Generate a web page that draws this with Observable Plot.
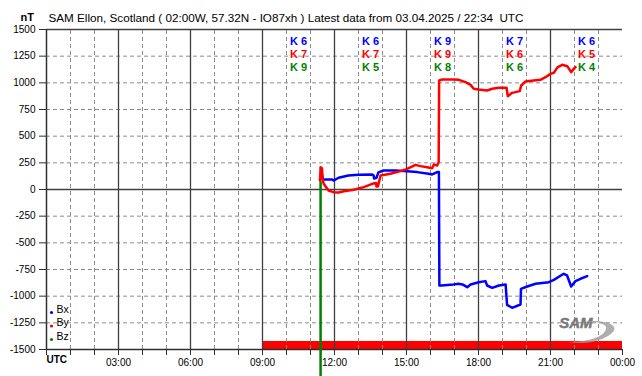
<!DOCTYPE html>
<html><head><meta charset="utf-8">
<script src="https://cdn.jsdelivr.net/npm/d3@7"></script>
<script src="https://cdn.jsdelivr.net/npm/@observablehq/plot@0.6"></script>
<style>body{margin:0;background:#fff;overflow:hidden;} svg{font-family:"Liberation Sans",Arial,sans-serif;}</style>
</head><body><div id="chart"></div>
<script>
// ---- data (hours UTC, nT) ----
const bxTime = [11.39,11.49,11.52,11.9,11.96,12.17,12.58,13.0,13.57,13.63,13.65,13.75,13.83,14.04,14.54,15.03,15.44,15.92,16.07,16.28,16.35,16.37,16.46,16.96,17.17,17.33,17.53,17.67,18.01,18.29,18.36,18.57,18.85,19.13,19.19,19.4,19.75,19.77,20.03,20.38,20.93,21.14,21.55,21.69,21.86,22.04,22.25,22.53];
const bxValue = [94,131,94,94,84,110,131,138,141,131,103,110,160,178,178,172,163,147,141,163,163,-900,-900,-890,-884,-890,-916,-890,-869,-859,-900,-922,-900,-890,-1081,-1109,-1078,-931,-909,-884,-869,-847,-790,-806,-909,-859,-837,-812];
const byTime = [11.4,11.42,11.48,11.5,11.55,11.75,11.96,12.17,12.39,12.8,13.22,13.57,13.73,13.75,13.79,13.81,13.92,14.33,14.75,15.03,15.375,15.58,15.86,16.07,16.14,16.28,16.34,16.36,16.49,16.97,17.18,17.46,17.67,17.8,18.01,18.36,18.57,18.85,19.17,19.22,19.4,19.72,19.78,19.96,20.3,20.58,20.79,21.0,21.14,21.3,21.49,21.7,21.86,21.97,22.04];
const byValue = [84,209,200,100,53,-9,-25,-28,-16,-3,22,53,60,28,50,28,131,147,172,194,231,219,209,200,234,225,256,1022,1031,1031,1028,1006,981,944,937,928,944,953,953,875,906,922,975,1013,1022,1028,1053,1084,1094,1147,1169,1156,1100,1131,1147];
const bzTime = [11.42,11.42];
const bzValue = [70,-1800];
const seriesNames = ["Bx","By","Bz"];
const seriesColors = ["#0000ff","#ff0000","#008000"];
const kBlockCenter = [10.5,13.5,16.5,19.5,22.5];
const kBx = [6,6,9,7,6];
const kBy = [7,7,9,6,5];
const kBz = [9,5,8,6,4];
const coverage = [{start:9,end:24}];
const hourTicks = d3.range(0,25);
const yTicks = d3.range(-1500,1501,250);
const titleText = "SAM Ellon, Scotland ( 02:00W, 57.32N - IO87xh ) Latest data from 03.04.2025 / 22:34  UTC";

const bx = bxTime.map((t,i)=>({t, v:bxValue[i]}));
const by = byTime.map((t,i)=>({t, v:byValue[i]}));
const bz = bzTime.map((t,i)=>({t, v:bzValue[i]}));
const kTables = [kBx,kBy,kBz].map(row=>row.map((k,i)=>({t:kBlockCenter[i], k})));
const hh = h => h===0 ? "" : (h%3===0 ? String(h%24).padStart(2,"0")+":00" : "");

const kMarks = kTables.map((rows,r)=>Plot.text(rows, {x:"t", frameAnchor:"top", dy: 8 + r*13, text: d=>"K " + d.k,
      fill: seriesColors[r], fontWeight:"bold", fontSize: 11}));
const legendMarks = seriesNames.flatMap((name,i)=>[
  Plot.dot([name], {frameAnchor:"bottom-left", dx: 5, dy: -37 + i*13.5, r:1.6, fill: seriesColors[i]}),
  Plot.text([name], {frameAnchor:"bottom-left", dx: 10, dy: -37 + i*13.5, textAnchor:"start", text: d=>d, fontSize: 10.5})
]);

const font = "Liberation Sans, Arial, sans-serif";
const chart = Plot.plot({
  width: 642, height: 376,
  marginLeft: 46, marginRight: 20, marginTop: 29, marginBottom: 27,
  style: {fontFamily: font, fontSize: "10px", color: "#000", background: "#fff", overflow: "visible"},
  x: {domain: [0,24], label: null},
  y: {domain: [-1500,1500], label: null},
  marks: [
    Plot.rect(coverage, {x1:"start", x2:"end", y1:-1500, y2:-1425, fill:"#ff0000"}),
    Plot.ruleX(hourTicks.filter(h=>h%3!==0), {stroke:"#8c8c8c", strokeDasharray:"4,3", strokeWidth:1, y1:-1500, y2:1500}),
    Plot.ruleY(yTicks.filter(v=>v!==0 && Math.abs(v)!==1500), {stroke:"#8c8c8c", strokeDasharray:"4,3", strokeWidth:1}),
    Plot.ruleX(hourTicks.filter(h=>h%3===0 && h>0 && h<24), {stroke:"#404040", strokeWidth:1.3, y1:-1500, y2:1500}),
    Plot.ruleY([0,1500], {stroke:"#404040", strokeWidth:1.3}),
    Plot.ruleY([-1500], {stroke:"#303030", strokeWidth:1.5}),
    Plot.ruleX([0], {stroke:"#303030", strokeWidth:1.5}),
    Plot.axisX({ticks: hourTicks, tickSize: 6, tickPadding: 3, tickFormat: hh, fontSize: 10, stroke:"#303030", label: null}),
    Plot.axisY({ticks: yTicks, tickSize: 7, tickPadding: 4, tickFormat: d=>String(d), fontSize: 10, stroke:"#303030", label: null}),
    Plot.text(["SAM"], {frameAnchor:"bottom-right", dx: -30, dy: -22, text: d=>d, fontSize: 15, fontStyle:"italic", fill:"#7a7a7a", stroke:"#555", strokeWidth:0.4, fontWeight:"bold"}),
    Plot.line(bz, {x:"t", y:"v", stroke: seriesColors[2], strokeWidth: 2.5}),
    Plot.line(bx, {x:"t", y:"v", stroke: seriesColors[0], strokeWidth: 2.5}),
    Plot.line(by, {x:"t", y:"v", stroke: seriesColors[1], strokeWidth: 2.5}),
    ...kMarks,
    Plot.text([titleText], {frameAnchor:"top-left", dx: 2, dy: -16, textAnchor:"start", text: d=>d, fontSize: 11.7, fill:"#000"}),
    Plot.text(["nT"], {frameAnchor:"top-left", dx: -26, dy: -16, textAnchor:"start", text: d=>d, fontSize: 11, fontWeight:"bold"}),
    Plot.text(["UTC"], {frameAnchor:"bottom-left", dx: 0, dy: 13, textAnchor:"start", text: d=>d, fontSize: 10, fontWeight:"bold"}),
    ...legendMarks
  ]
});
// decorative swoosh of the SAM logo
d3.select(chart).append("path")
  .attr("d", "M568,342 C593,347 618,334 614,327 C611,321 593,319 574,323 C593,320 608,323 606,329 C604,337 588,342 568,342 Z")
  .attr("fill", "#9a9a9a").attr("opacity", 0.8);
document.getElementById("chart").appendChild(chart);
</script>
</body></html>
